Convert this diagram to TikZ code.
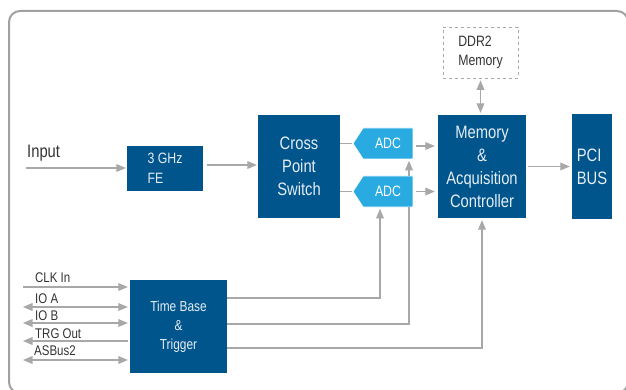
\documentclass[tikz,border=0pt]{standalone}
\usepackage{fontspec}
\setmainfont{Liberation Sans}[FakeStretch=0.82]
\usepackage{pgf,tikz}
\usetikzlibrary{arrows,shapes.symbols}
\definecolor{dkblue}{rgb}{0.0,0.333,0.549}
\definecolor{ltblue}{rgb}{0.161,0.671,0.886}
\definecolor{lgray}{rgb}{0.66,0.66,0.66}
\definecolor{fgray}{rgb}{0.63,0.63,0.63}
\definecolor{txtgray}{rgb}{0.2,0.2,0.2}
\definecolor{boxtxt}{rgb}{0.9,0.93,0.96}
\tikzset{
	block/.style={fill=dkblue,text=boxtxt,inner sep=0pt,align=center},
	adc/.style={signal,signal to=west,signal pointer angle=114,fill=ltblue,draw=white,line width=0.8pt,text=white,minimum width=60pt,minimum height=31pt,inner sep=0pt,font=\fontsize{15}{18}\selectfont},
	conn/.style={color=lgray,line width=1.2pt},
	arr/.style={conn,-triangle 45},
	darr/.style={conn,triangle 45-triangle 45},
	lbl/.style={text=txtgray,inner sep=0pt,anchor=base west,font=\fontsize{14}{16}\selectfont}
}

\begin{document}
\begin{tikzpicture}[x=1pt,y=-1pt]
			\clip (0,0) rectangle (626,390);
			\draw [color=fgray,line width=2pt,rounded corners=11pt] (9,11) rectangle (628,393);
			% blocks
			\node [block,minimum width=76pt,minimum height=45pt,align=left,font=\fontsize{15}{20}\selectfont] (fe) at (165,168.5) {3 GHz\\FE};
			\node [block,minimum width=82pt,minimum height=103pt,font=\fontsize{18}{23}\selectfont] (sw) at (299,166.5) {Cross\\Point\\Switch};
			\node [adc] (adc1) at (388,143.5) {ADC};
			\node [adc] (adc2) at (388,191.5) {ADC};
			\node [block,minimum width=88pt,minimum height=103pt,font=\fontsize{18}{23}\selectfont] (ctrl) at (482,166.5) {Memory\\\&\\Acquisition\\Controller};
			\node [block,minimum width=40pt,minimum height=104pt,align=left,font=\fontsize{18}{23}\selectfont] (pci) at (592,166.5) {PCI\\BUS};
			\node [draw=lgray,dashed,line width=0.8pt,minimum width=75pt,minimum height=51pt,inner sep=0pt,align=left,text=txtgray,font=\fontsize{15}{19}\selectfont] (ddr) at (480.5,52.5) {DDR2\\Memory};
			\node [block,minimum width=97pt,minimum height=93pt,font=\fontsize{14.5}{19}\selectfont] (tb) at (178.5,326.5) {Time Base\\\&\\Trigger};
			% input path
			\coordinate (in) at (26,168);
			\node [lbl,font=\fontsize{18}{20}\selectfont] (linput) at (27,158) {Input};
			\draw [arr,shorten >=1pt] (in) -- (in -| fe.west);
			\draw [arr,shorten <=4pt,shorten >=1pt] ([yshift=3.5pt]fe.east) -- ([yshift=3.5pt]fe.east -| sw.west);
			\draw [conn] (adc1.west -| sw.east) -- (adc1.west);
			\draw [conn] (adc2.west -| sw.east) -- (adc2.west);
			\draw [arr,shorten <=3pt,shorten >=3pt] ([yshift=-2.5pt]adc1.east) -- ([yshift=-2.5pt]adc1.east -| ctrl.west);
			\draw [arr,shorten <=3pt,shorten >=3pt] (adc2.east) -- (adc2.east -| ctrl.west);
			\draw [darr,shorten <=2pt,shorten >=2pt] (ddr.south) -- (ddr.south |- ctrl.north);
			\draw [arr,shorten <=2pt,shorten >=2pt] (ctrl.east) -- (ctrl.east -| pci.west);
			% timing signals
			\coordinate (clk) at (23,287);
			\coordinate (ioa) at (23,307);
			\coordinate (iob) at (23,323);
			\coordinate (trg) at (23,341);
			\coordinate (asb) at (23,360);
			\node [lbl] (lclk) at (35,282) {CLK In};
			\node [lbl] (lioa) at (35,303) {IO A};
			\node [lbl] (liob) at (35,320) {IO B};
			\node [lbl] (ltrg) at (35,338) {TRG Out};
			\node [lbl] (lasb) at (34,355) {ASBus2};
			\draw [arr,shorten >=2pt] (clk) -- (clk -| tb.west);
			\draw [darr,shorten >=2pt] (ioa) -- (ioa -| tb.west);
			\draw [darr,shorten >=2pt] (iob) -- (iob -| tb.west);
			\draw [arr,shorten <=2pt] (trg -| tb.west) -- (trg);
			\draw [darr,shorten >=2pt] (asb) -- (asb -| tb.west);
			\draw [arr,shorten >=1.5pt] (tb.east |- 0,298) -| ([xshift=-8pt]adc2.south);
			\draw [conn] (tb.east |- 0,324) -| ([xshift=21pt]adc2.south);
			\draw [arr,shorten >=1.5pt] ([xshift=21pt]adc2.north) -- ([xshift=21pt]adc1.south);
			\draw [arr,shorten >=2pt] (tb.east |- 0,348) -| (ctrl.south);
\end{tikzpicture}
\end{document}
